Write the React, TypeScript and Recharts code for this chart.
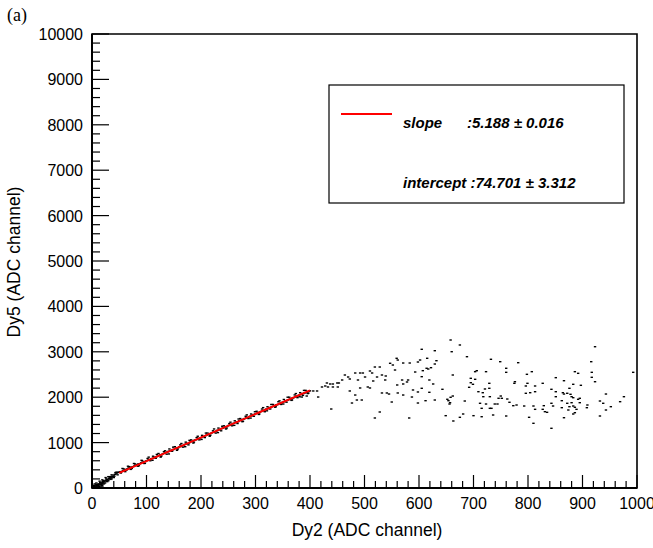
import { ScatterChart, Scatter, XAxis, YAxis, ReferenceArea } from "recharts";

// points along the linear part (Dy2, Dy5)
const bandPoints: [number, number][] = [
  [1, 5], [2, 15], [3, 0], [4, 30], [4, 50], [5, 12], [6, 45], [7, 20], [7, 70], [8, 40],
  [9, 60], [10, 25], [10, 80], [11, 70], [12, 55], [12, 90], [13, 30], [14, 90], [15, 70], [15, 120],
  [16, 110], [17, 80], [18, 100], [18, 60], [19, 130], [20, 115], [20, 150], [21, 160], [22, 150], [23, 135],
  [24, 110], [25, 170], [26, 160], [26, 200], [27, 150], [28, 190], [29, 175], [30, 160], [31, 215], [32, 200],
  [33, 250], [33, 220], [34, 240], [35, 225], [36, 200], [37, 260], [38, 250], [39, 240], [40, 285], [41, 260],
  [42, 300], [44, 310], [45, 350], [46, 330], [48, 345], [50, 350], [52, 360], [53, 330], [55, 365], [57, 380],
  [58, 420], [60, 395], [62, 410], [63, 390], [65, 420], [67, 440], [68, 470], [70, 445], [72, 460], [73, 430],
  [75, 470], [78, 490], [79, 530], [80, 500], [83, 515], [85, 530], [86, 490], [88, 535], [90, 555], [92, 600],
  [93, 560], [95, 580], [97, 545], [98, 585], [100, 600], [102, 650], [103, 615], [105, 620], [107, 600], [108, 640],
  [110, 650], [112, 700], [113, 660], [115, 680], [117, 655], [118, 690], [120, 700], [122, 760], [123, 715], [125, 730],
  [127, 700], [128, 735], [130, 755], [132, 800], [133, 765], [135, 780], [137, 745], [138, 790], [140, 805], [142, 860],
  [143, 820], [145, 825], [147, 810], [148, 845], [150, 850], [152, 910], [153, 870], [155, 880], [157, 855], [158, 885],
  [160, 905], [162, 950], [163, 915], [165, 930], [167, 900], [168, 935], [170, 960], [172, 1010], [173, 970], [175, 980],
  [177, 950], [178, 990], [180, 1010], [182, 1060], [183, 1025], [185, 1030], [187, 1010], [188, 1050], [190, 1060], [192, 1110],
  [193, 1070], [195, 1090], [197, 1060], [198, 1100], [200, 1110], [202, 1160], [203, 1130], [205, 1135], [207, 1110], [208, 1150],
  [210, 1165], [212, 1210], [213, 1175], [215, 1190], [217, 1160], [218, 1200], [220, 1215], [222, 1260], [223, 1230], [225, 1240],
  [227, 1210], [228, 1250], [230, 1270], [232, 1320], [233, 1280], [235, 1290], [237, 1260], [238, 1310], [240, 1320], [242, 1370],
  [243, 1330], [245, 1350], [247, 1320], [248, 1355], [250, 1375], [252, 1420], [253, 1390], [255, 1395], [257, 1370], [258, 1415],
  [260, 1425], [262, 1480], [263, 1440], [265, 1450], [267, 1420], [268, 1460], [270, 1480], [272, 1530], [273, 1490], [275, 1505],
  [277, 1470], [278, 1515], [280, 1530], [282, 1580], [283, 1545], [285, 1550], [287, 1530], [288, 1570], [290, 1580], [292, 1630],
  [293, 1590], [295, 1610], [297, 1580], [298, 1620], [300, 1635], [302, 1690], [303, 1650], [305, 1655], [307, 1630], [308, 1675],
  [310, 1685], [312, 1740], [313, 1700], [315, 1710], [317, 1680], [318, 1720], [320, 1740], [322, 1790], [323, 1750], [325, 1765],
  [327, 1740], [328, 1775], [330, 1790], [332, 1840], [333, 1800], [335, 1815], [337, 1790], [338, 1830], [340, 1835], [342, 1900],
  [343, 1855], [345, 1865], [347, 1840], [348, 1875], [350, 1890], [352, 1950], [353, 1900], [355, 1920], [357, 1890], [358, 1930],
  [360, 1940], [362, 2000], [363, 1955], [365, 1970], [367, 1940], [368, 1980], [370, 1990], [372, 2050], [373, 2005], [375, 2020],
  [377, 1990], [378, 2030], [380, 2045], [382, 2100], [383, 2060], [385, 2065], [387, 2040], [388, 2080], [390, 2095], [392, 2150],
  [393, 2100], [395, 2115], [397, 2090], [398, 2130], [400, 2140],
];

// outer edge of the band, a little above / below the fit
const bandEdge: [number, number][] = [
  [2, 60], [5, 90], [8, 110], [11, 20], [14, 150], [17, 40], [19, 180], [22, 90], [25, 230], [28, 140],
  [30, 250], [34, 190], [36, 290], [40, 230], [43, 340], [47, 290], [56, 430], [61, 360], [66, 480], [71, 410],
  [77, 540], [84, 480], [91, 610], [96, 540], [104, 680], [111, 610], [119, 740], [126, 680], [134, 820], [141, 750],
  [149, 900], [156, 830], [164, 980], [171, 910], [179, 1050], [186, 990], [194, 1140], [201, 1070], [209, 1210], [216, 1140],
  [224, 1300], [231, 1220], [239, 1360], [246, 1300], [254, 1450], [261, 1380], [269, 1520], [276, 1460], [284, 1610], [291, 1540],
  [299, 1680], [306, 1620], [314, 1770], [321, 1700], [329, 1840], [336, 1780], [344, 1920], [351, 1850], [359, 2000], [366, 1930],
  [374, 2080], [381, 2010], [389, 2150], [396, 2080],
];

// saturated region, scattered points
const spreadPoints: [number, number][] = [
  [559, 2857], [561, 2819], [547, 2747], [552, 2709], [571, 2753], [583, 2753], [598, 2775], [519, 2665], [528, 2665], [556, 2599],
  [593, 2555], [464, 2489], [483, 2533], [492, 2533], [497, 2533], [510, 2577], [514, 2533], [470, 2445], [473, 2401], [501, 2445],
  [523, 2445], [532, 2489], [539, 2467], [459, 2379], [488, 2379], [516, 2357], [538, 2379], [569, 2379], [578, 2335], [580, 2379],
  [431, 2313], [437, 2291], [442, 2291], [450, 2313], [453, 2313], [422, 2225], [428, 2247], [433, 2225], [442, 2225], [451, 2225],
  [560, 2269], [571, 2291], [506, 2225], [510, 2203], [492, 2203], [589, 2159], [473, 2137], [406, 2137], [413, 2137], [532, 2093],
  [541, 2093], [545, 2070], [561, 2093], [571, 2048], [598, 2115], [394, 2026], [385, 2004], [415, 2004], [483, 2048], [587, 2004],
  [550, 1894], [486, 1938], [495, 1938], [477, 1872], [598, 1872], [439, 1740], [528, 1674], [519, 1542], [582, 1542],
  [658, 3260], [675, 3150], [605, 3055], [629, 3024], [660, 3002], [688, 2892], [615, 2857], [602, 2819], [632, 2804], [732, 2835],
  [749, 2782], [629, 2731], [782, 2760], [614, 2637], [622, 2650], [617, 2621], [760, 2637], [607, 2584], [703, 2562], [706, 2584],
  [723, 2562], [760, 2548], [807, 2562], [798, 2504], [662, 2489], [605, 2452], [695, 2416], [703, 2394], [619, 2379], [695, 2319],
  [699, 2284], [626, 2291], [729, 2306], [776, 2341], [775, 2306], [799, 2306], [813, 2247], [796, 2247], [692, 2218], [605, 2196],
  [643, 2174], [721, 2181], [729, 2196], [709, 2121], [717, 2099], [619, 2108], [813, 2121], [804, 2099], [796, 2086], [662, 2026],
  [658, 1998], [718, 2011], [730, 2011], [750, 2026], [746, 1976], [752, 1976], [762, 1960], [652, 1954], [654, 1923], [612, 1923],
  [629, 1938], [684, 1916], [766, 1888], [657, 1879], [656, 1850], [712, 1866], [723, 1850], [739, 1850], [744, 1850], [773, 1813],
  [779, 1828], [793, 1806], [810, 1806], [813, 1733], [715, 1755], [730, 1755], [733, 1755], [681, 1630], [649, 1593], [700, 1593],
  [715, 1570], [736, 1608], [760, 1586], [675, 1557], [802, 1557], [663, 1476], [810, 1425],
  [923, 3112], [916, 2782], [993, 2548], [886, 2562], [892, 2526], [917, 2548], [917, 2438], [923, 2341], [851, 2430], [866, 2363],
  [827, 2306], [883, 2284], [897, 2262], [876, 2196], [843, 2174], [851, 2121], [864, 2099], [866, 2070], [872, 2086], [878, 2064],
  [943, 2070], [851, 2011], [880, 2011], [883, 1989], [976, 2011], [892, 1954], [895, 1976], [862, 1923], [932, 1916], [969, 1901],
  [843, 1866], [872, 1866], [880, 1879], [895, 1879], [938, 1866], [829, 1813], [846, 1806], [876, 1791], [883, 1806], [909, 1828],
  [952, 1791], [862, 1769], [886, 1778], [908, 1769], [827, 1733], [874, 1718], [889, 1733], [943, 1718], [831, 1681], [835, 1667],
  [886, 1659], [883, 1630], [932, 1586], [866, 1548], [843, 1315],
];

// linear fit drawn over 50..400
const fitX = [50, 400];
const fitY = [334, 2150];

const xMajor = [0, 100, 200, 300, 400, 500, 600, 700, 800, 900, 1000];
const yMajor = [0, 1000, 2000, 3000, 4000, 5000, 6000, 7000, 8000, 9000, 10000];
const xTicks = Array.from({ length: 51 }, (_, i) => i * 20);
const yTicks = Array.from({ length: 51 }, (_, i) => i * 200);

const points = [...bandPoints, ...bandEdge, ...spreadPoints].map(([x, y]) => ({ x, y }));
const fitData = fitX.map((x, i) => ({ x, y: fitY[i] }));

const SANS = "'Liberation Sans', Arial, sans-serif";

function XTick(props: any) {
  const { x, y, payload } = props;
  const major = xMajor.includes(payload.value);
  return (
    <g>
      <line x1={x} x2={x} y1={y} y2={y - (major ? 13 : 7)} stroke="#000" strokeWidth={1.2} />
      {major && (
        <text x={x} y={y + 21} textAnchor="middle" fontFamily={SANS} fontSize={16} fill="#000">
          {payload.value}
        </text>
      )}
    </g>
  );
}

function YTick(props: any) {
  const { x, y, payload } = props;
  const major = yMajor.includes(payload.value);
  return (
    <g>
      <line x1={x} x2={x + (major ? 17 : 8)} y1={y} y2={y} stroke="#000" strokeWidth={1.2} />
      {major && (
        <text x={x - 9} y={y + 6} textAnchor="end" fontFamily={SANS} fontSize={16} fill="#000">
          {payload.value}
        </text>
      )}
    </g>
  );
}

const Dot = (p: any) => <rect x={p.cx - 1.2} y={p.cy - 0.7} width={2.4} height={1.4} fill="#000" />;

export default function App() {
  return (
    <div style={{ position: "absolute", left: 0, top: 0, width: 653, height: 548, background: "#fff" }}>
      <ScatterChart width={653} height={548} margin={{ top: 34, right: 16, bottom: 30, left: 32 }}>
        <XAxis
          type="number"
          dataKey="x"
          domain={[0, 1000]}
          ticks={xTicks}
          interval={0}
          height={30}
          tickSize={0}
          tickMargin={0}
          tickLine={false}
          tick={XTick}
          axisLine={{ stroke: "#000", strokeWidth: 2 }}
        />
        <YAxis
          type="number"
          dataKey="y"
          domain={[0, 10000]}
          ticks={yTicks}
          interval={0}
          width={60}
          tickSize={0}
          tickMargin={0}
          tickLine={false}
          tick={YTick}
          axisLine={{ stroke: "#000", strokeWidth: 2 }}
        />
        <ReferenceArea x1={0} x2={1000} y1={0} y2={10000} fill="none" stroke="#000" strokeWidth={1.6} />
        <Scatter data={points} shape={Dot} isAnimationActive={false} />
        <Scatter
          data={fitData}
          line={{ stroke: "#ff0000", strokeWidth: 2 }}
          shape={() => <g />}
          isAnimationActive={false}
        />
      </ScatterChart>
      <svg
        width={653}
        height={548}
        style={{ position: "absolute", left: 0, top: 0, pointerEvents: "none" }}
      >
        <text x={7} y={21} fontFamily="'Liberation Serif', 'Times New Roman', serif" fontSize={18}>
          (a)
        </text>
        <text x={367} y={536} textAnchor="middle" fontFamily={SANS} fontSize={17.5}>
          Dy2 (ADC channel)
        </text>
        <text
          x={20}
          y={262}
          textAnchor="middle"
          transform="rotate(-90 20 262)"
          fontFamily={SANS}
          fontSize={17.5}
        >
          Dy5 (ADC channel)
        </text>
        <rect x={329} y={85} width={295} height={118} fill="#fff" stroke="#000" strokeWidth={1.2} />
        <line x1={341} x2={392} y1={114} y2={114} stroke="#ff0000" strokeWidth={2} />
        <g fontFamily={SANS} fontSize={15} fontWeight="bold" fontStyle="italic">
          <text x={403} y={128}>slope</text>
          <text x={467} y={128}>:5.188 ± 0.016</text>
          <text x={403} y={188}>intercept :74.701 ± 3.312</text>
        </g>
      </svg>
    </div>
  );
}
